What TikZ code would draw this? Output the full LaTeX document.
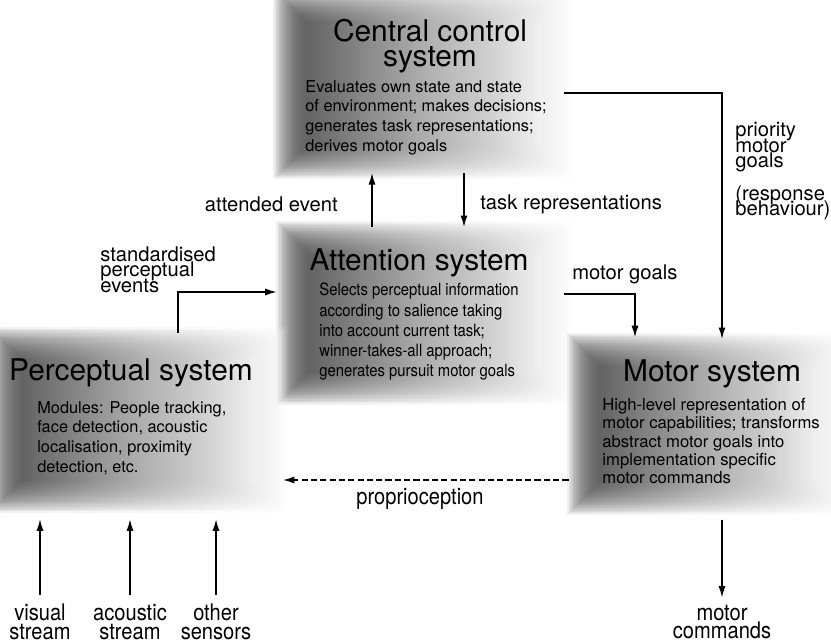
\documentclass[tikz,border=0pt]{standalone}
\usepackage{fontspec}
\setmainfont{TeX Gyre Heros}
\newfontfamily\narrowfont[FakeStretch=0.88]{TeX Gyre Heros}
\usetikzlibrary{arrows.meta,fit,backgrounds}
\lineskiplimit=-20pt

\tikzset{
  sysbox/.style={rectangle, inner sep=0pt},
  systitle/.style={align=center, inner sep=0pt, font=\fontsize{17}{14.5}\selectfont},
  sysbody/.style={align=left, anchor=north west, inner sep=0pt, font=\fontsize{9.3}{11.2}\selectfont},
  lbl/.style={align=left, inner sep=0pt, font=\fontsize{11.5}{8.8}\selectfont},
  lblnarrow/.style={align=center, inner sep=0pt, font=\narrowfont\fontsize{13}{10.6}\selectfont},
  flow/.style={-{Latex[length=6.5pt,width=4pt]}, line width=0.8pt},
}

\begin{document}
\begin{tikzpicture}[x=0.02cm, y=-0.02cm]
%			\draw[help lines] (0,0) grid (831,639);
			\useasboundingbox (0,0) rectangle (831,639);
			\node[sysbox, fit={(274,-10) (572,178)}] (ccs) {};
			\node[sysbox, fit={(277,222) (572,404)}] (att) {};
			\node[sysbox, fit={(-10,328) (287,512)}] (per) {};
			\node[sysbox, fit={(568,334) (850,514)}] (mot) {};
			\begin{scope}[on background layer]
				\foreach \b in {ccs,att,per,mot}
					\foreach \k in {0,...,23}
						\shade[left color=black!68, middle color=black!20, right color=black!3, opacity=0.09]
							([shift={(0.8*\k pt,0.8*\k pt)}]\b.south west) rectangle ([shift={(-0.8*\k pt,-0.8*\k pt)}]\b.north east);
			\end{scope}
			\node[systitle] (ccs-t) at (430,46) {Central control\\system};
			\node[systitle] (att-t) at (419,263) {Attention system};
			\node[systitle] (per-t) at (131,373) {Perceptual system};
			\node[systitle] (mot-t) at (712,374) {Motor system};
			\node[sysbody] (ccs-b) at (305,80) {Evaluates own state and state\\of environment; makes decisions;\\generates task representations;\\derives motor goals};
			\node[sysbody, font=\narrowfont\fontsize{9.6}{11.5}\selectfont] (att-b) at (319,283) {Selects perceptual information\\according to salience taking\\into account current task;\\winner-takes-all approach;\\generates pursuit motor goals};
			\node[sysbody] (per-b) at (37,401) {Modules: People tracking,\\face detection, acoustic\\localisation, proximity\\detection, etc.};
			\node[sysbody, font=\fontsize{9.5}{10.4}\selectfont] (mot-b) at (602,398) {High-level representation of\\motor capabilities; transforms\\abstract motor goals into\\implementation specific\\motor commands};
			\node[lbl, anchor=east] (ae-l) at (338,204) {attended event};
			\node[lbl, anchor=west] (tr-l) at (480,204) {task representations};
			\node[lbl, anchor=north west] (spe-l) at (100,246) {standardised\\perceptual\\events};
			\node[lbl, anchor=north west] (pri-l) at (735,122) {priority\\motor\\goals};
			\node[lbl, anchor=north west] (rb-l) at (735,185) {(response\\behaviour)};
			\node[lbl, anchor=west] (mg-l) at (572,274) {motor goals};
			\node[lblnarrow] (pp-l) at (420,499) {proprioception};
			\node[lblnarrow] (vis) at (40,622) {visual\\stream};
			\node[lblnarrow] (aco) at (130,622) {acoustic\\stream};
			\node[lblnarrow] (oth) at (216,622) {other\\sensors};
			\node[lblnarrow] (mc) at (722,622) {motor\\commands};
			\coordinate (ae) at (372,0);
			\coordinate (tr) at (464,0);
			\coordinate (pri) at (722,93);
			\coordinate (mg) at (635,294);
			\coordinate (spe) at (178,292);
			\coordinate (pp) at (0,480);
			\draw[flow, shorten <=-3pt, shorten >=-3pt] (att.north -| ae) -- (ccs.south -| ae);
			\draw[flow, shorten <=-3pt, shorten >=-3pt] (ccs.south -| tr) -- (att.north -| tr);
			\draw[flow, shorten <=-5pt, shorten >=-3pt] (ccs.east |- pri) -- (pri) -- (pri |- mot.north);
			\draw[flow, shorten <=-5pt, shorten >=-2pt] (att.east |- mg) -- (mg) -- (mg |- mot.north);
			\draw[flow, shorten <=-3pt, shorten >=0pt] (spe |- per.north) -- (spe) -- (att.west |- spe);
			\draw[flow, dash pattern=on 3.5pt off 1.8pt, shorten <=-0.5pt, shorten >=-2.5pt] (mot.west |- pp) -- (per.east |- pp);
			\draw[flow, shorten <=5pt, shorten >=4pt] (vis.north) -- (vis.north |- per.south);
			\draw[flow, shorten <=5pt, shorten >=4pt] (aco.north) -- (aco.north |- per.south);
			\draw[flow, shorten <=5pt, shorten >=4pt] (oth.north) -- (oth.north |- per.south);
			\draw[flow, shorten <=3pt, shorten >=4pt] (mc.north |- mot.south) -- (mc.north);
		\end{tikzpicture}
\end{document}
